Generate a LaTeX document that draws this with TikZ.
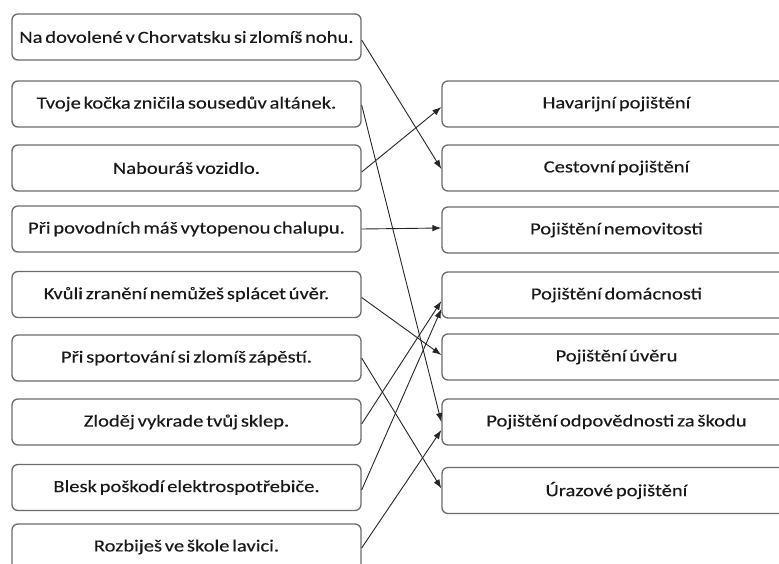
\documentclass[tikz,border=0pt]{standalone}
\usepackage{fontspec}
\setmainfont[FakeStretch=1.21,WordSpace=0.6,FakeBold=0.3]{Carlito}
\usetikzlibrary{arrows.meta}
\begin{document}
\begin{tikzpicture}[x=1pt,y=-1pt,
  box/.style={draw=black!58, line width=1.3pt, rounded corners=6pt, minimum width=349pt, minimum height=46pt, inner sep=0pt, font=\fontsize{17}{20}\selectfont, text=black!90},
  conn/.style={draw=black!85, line width=0.9pt, -{Latex[length=9pt,width=6.5pt]}}]
\useasboundingbox (0,0) rectangle (779,563);
\clip (0,0) rectangle (779,563);
% left boxes
\node[box] (L1) at (186.5,37) {Na dovolené v Chorvatsku si zlomíš nohu.};
\node[box] (L2) at (186.5,104) {Tvoje kočka zničila sousedův altánek.};
\node[box] (L3) at (186.5,168) {Nabouráš vozidlo.};
\node[box] (L4) at (186.5,229) {Při povodních máš vytopenou chalupu.};
\node[box] (L5) at (186.5,294.5) {Kvůli zranění nemůžeš splácet úvěr.};
\node[box] (L6) at (186.5,358) {Při sportování si zlomíš zápěstí.};
\node[box] (L7) at (186.5,422) {Zloděj vykrade tvůj sklep.};
\node[box] (L8) at (186.5,487.5) {Blesk poškodí elektrospotřebiče.};
\node[box] (L9) at (186.5,547) {Rozbiješ ve škole lavici.};
% right boxes
\node[box] (R1) at (616.5,104) {Havarijní pojištění};
\node[box] (R2) at (616.5,168) {Cestovní pojištění};
\node[box] (R3) at (616.5,230) {Pojištění nemovitosti};
\node[box] (R4) at (616.5,295) {Pojištění domácnosti};
\node[box] (R5) at (616.5,357) {Pojištění úvěru};
\node[box] (R6) at (616.5,422) {Pojištění odpovědnosti za škodu};
\node[box] (R7) at (616.5,490.5) {Úrazové pojištění};
% connectors
\draw[conn] ([yshift=-3pt]L1.east) -- ([yshift=-1pt]R2.west);
\draw[conn] ([yshift=-1pt]L2.east) -- ([yshift=0pt]R6.west);
\draw[conn] ([yshift=-4pt]L3.east) -- ([yshift=-3pt]R1.west);
\draw[conn] (L4.east) -- ([yshift=2pt]R3.west);
\draw[conn] ([yshift=-3pt]L5.east) -- ([yshift=2pt]R5.west);
\draw[conn] (L6.east) -- ([yshift=2pt]R7.west);
\draw[conn] ([yshift=-2pt]L7.east) -- ([yshift=-6pt]R4.west);
\draw[conn] ([yshift=-2.5pt]L8.east) -- ([yshift=-14pt]R4.west);
\draw[conn] ([yshift=-1pt]L9.east) -- ([yshift=-8pt]R6.west);
\end{tikzpicture}
\end{document}
